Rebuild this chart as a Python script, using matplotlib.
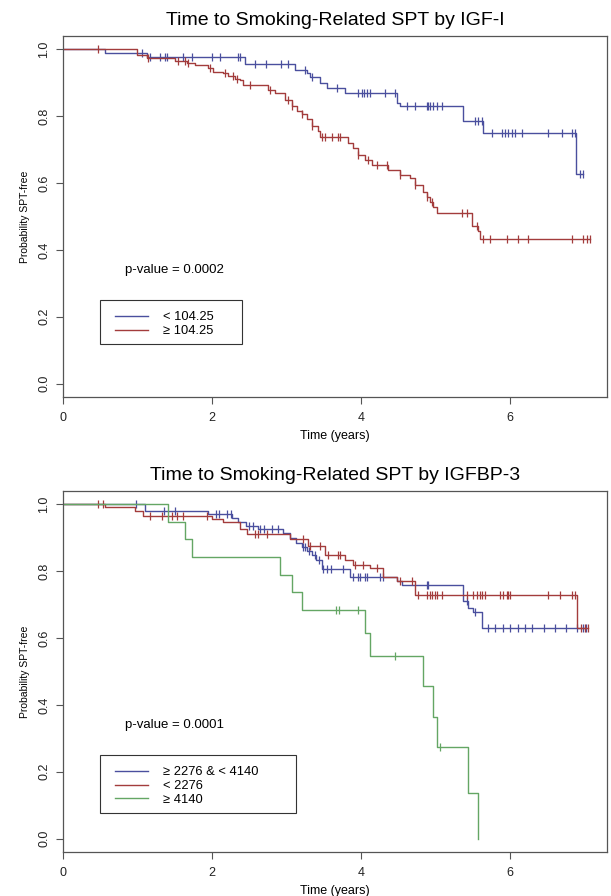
import numpy as np
import matplotlib.pyplot as plt
from matplotlib.patches import Rectangle

plt.rcParams['font.family'] = ['Liberation Sans', 'DejaVu Sans']

BLUE = '#4a4f9e'
RED = '#a33c3c'
GREEN = '#64a664'
AX_GRAY = '#555555'

# --- IGF-I panel ---
igf_low_times = [0.56, 1.13, 2.44, 3.11, 3.28, 3.32, 3.45, 3.54, 3.79, 4.48, 4.52, 5.37, 5.64, 6.89]
igf_low_surv = [0.990, 0.976, 0.955, 0.937, 0.928, 0.916, 0.900, 0.883, 0.868, 0.840, 0.830, 0.787, 0.750, 0.626]
igf_low_cens = [1.06, 1.17, 1.30, 1.37, 1.40, 1.61, 1.73, 2.00, 2.11, 2.35, 2.38, 2.58, 2.72, 2.92,
                3.02, 3.25, 3.34, 3.68, 3.96, 4.01, 4.04, 4.08, 4.12, 4.32, 4.46, 4.62, 4.72, 4.89,
                4.90, 4.93, 4.97, 5.02, 5.09, 5.53, 5.57, 5.62, 5.76, 5.89, 5.93, 5.97, 6.03, 6.07,
                6.16, 6.51, 6.70, 6.83, 6.87, 6.94, 6.98]

igf_high_times = [0.99, 1.13, 1.50, 1.66, 1.77, 1.95, 2.01, 2.15, 2.21, 2.31, 2.38, 2.42, 2.75, 2.85,
                  2.98, 3.07, 3.14, 3.21, 3.28, 3.34, 3.42, 3.45, 3.83, 3.89, 3.96, 4.05, 4.15, 4.36,
                  4.52, 4.66, 4.72, 4.83, 4.89, 4.93, 4.97, 5.02, 5.49, 5.57, 5.60]
igf_high_surv = [0.982, 0.973, 0.964, 0.958, 0.952, 0.943, 0.931, 0.928, 0.919, 0.912, 0.907, 0.892,
                 0.877, 0.868, 0.850, 0.832, 0.817, 0.808, 0.793, 0.772, 0.757, 0.737, 0.719, 0.704,
                 0.683, 0.668, 0.653, 0.638, 0.623, 0.614, 0.593, 0.572, 0.557, 0.542, 0.527, 0.509,
                 0.473, 0.458, 0.434]
igf_high_cens = [0.47, 1.14, 1.54, 1.64, 1.68, 1.97, 2.17, 2.28, 2.34, 2.51, 2.78, 3.02, 3.07, 3.21,
                 3.34, 3.48, 3.52, 3.61, 3.69, 3.72, 3.96, 4.09, 4.21, 4.35, 4.52, 4.72, 4.89, 4.95,
                 5.36, 5.42, 5.56, 5.64, 5.73, 5.96, 6.11, 6.24, 6.83, 6.98, 7.03, 7.07]

# --- IGFBP-3 panel ---
bp_mid_times = [1.10, 1.95, 2.27, 2.35, 2.45, 2.62, 2.95, 3.05, 3.13, 3.21, 3.28, 3.34, 3.40, 3.47,
                3.85, 4.48, 4.55, 5.37, 5.44, 5.50, 5.62]
bp_mid_surv = [0.979, 0.970, 0.958, 0.946, 0.935, 0.925, 0.915, 0.900, 0.885, 0.871, 0.860, 0.850,
               0.835, 0.808, 0.784, 0.772, 0.760, 0.710, 0.690, 0.677, 0.630]
bp_mid_cens = [0.98, 1.35, 1.50, 2.05, 2.10, 2.20, 2.25, 2.50, 2.55, 2.65, 2.70, 2.80, 2.88, 3.22,
               3.25, 3.30, 3.38, 3.44, 3.49, 3.54, 3.60, 3.76, 3.89, 3.96, 3.99, 4.05, 4.08, 4.25,
               4.29, 4.89, 4.90, 5.42, 5.53, 5.70, 5.80, 5.90, 6.00, 6.10, 6.20, 6.30, 6.45, 6.60,
               6.75, 6.90, 6.98, 7.02]

bp_low_times = [0.56, 0.97, 1.08, 2.00, 2.15, 2.38, 2.47, 3.05, 3.29, 3.52, 3.79, 3.89, 4.12, 4.30,
                4.48, 4.72, 6.90]
bp_low_surv = [0.991, 0.979, 0.964, 0.955, 0.946, 0.925, 0.910, 0.895, 0.874, 0.850, 0.835, 0.820,
               0.810, 0.784, 0.770, 0.730, 0.630]
bp_low_cens = [0.47, 0.54, 1.17, 1.33, 1.46, 1.53, 1.61, 1.93, 2.58, 2.62, 2.74, 3.22, 3.32, 3.45,
               3.56, 3.69, 3.72, 3.92, 4.03, 4.21, 4.52, 4.68, 4.77, 4.89, 4.93, 4.95, 4.99, 5.02,
               5.09, 5.42, 5.50, 5.56, 5.60, 5.62, 5.66, 5.87, 5.91, 5.96, 5.97, 6.00, 6.51, 6.67,
               6.83, 6.87, 6.95, 7.00, 7.04]

bp_high_times = [1.41, 1.64, 1.73, 2.91, 3.07, 3.21, 4.05, 4.12, 4.83, 4.97, 5.02, 5.44, 5.57]
bp_high_surv = [0.947, 0.895, 0.842, 0.789, 0.737, 0.684, 0.616, 0.547, 0.456, 0.365, 0.274, 0.137, 0.0]
bp_high_cens = [3.67, 3.71, 3.96, 4.46, 5.06]


def draw_km(ax, times, surv, cens, color, label):
    times = np.asarray(times)
    surv = np.asarray(surv)
    end = max(times.max(), max(cens))
    xs = np.concatenate([[0], times, [end]])
    ys = np.concatenate([[1.0], surv, [surv[-1]]])
    line, = ax.step(xs, ys, where='post', color=color, lw=1.0, label=label)
    # censor marks sit on the curve value at that time
    idx = np.searchsorted(times, cens, side='right')
    cy = np.where(idx > 0, surv[np.maximum(idx - 1, 0)], 1.0)
    ax.plot(cens, cy, ls='none', marker='|', ms=6, mew=0.9, color=color)
    return line


def style_axes(ax, title):
    ax.set_xlim(0, 7.3)
    ax.set_ylim(-0.04, 1.04)
    ax.set_xticks([0, 2, 4, 6])
    ax.set_yticks([0.0, 0.2, 0.4, 0.6, 0.8, 1.0])
    ax.set_yticklabels(['0.0', '0.2', '0.4', '0.6', '0.8', '1.0'], rotation=90, va='center')
    ax.tick_params(colors=AX_GRAY, labelcolor='#222222', labelsize=9, length=5, width=0.8)
    ax.tick_params(axis='x', pad=6)
    ax.tick_params(axis='y', pad=4)
    for sp in ax.spines.values():
        sp.set_color(AX_GRAY)
        sp.set_linewidth(0.9)
    ax.set_xlabel('Time (years)', fontsize=9, labelpad=4)
    ax.set_ylabel('Probability SPT-free', fontsize=7.5, labelpad=6)
    ax.set_title(title, fontsize=14, pad=8)


def add_legend(ax, handles, box_w, box_h):
    # R-style legend box: wider on the right than matplotlib would make it
    ax.add_patch(Rectangle((0.497, 0.249 - box_h), box_w, box_h, fill=False,
                           edgecolor='#333333', lw=0.8, zorder=3))
    ax.legend(handles=handles, loc='upper left', bbox_to_anchor=(0.70, 0.216),
              bbox_transform=ax.transData, fontsize=9.3, frameon=False,
              handlelength=2.55, handletextpad=1.15, borderpad=0,
              labelspacing=0.12, borderaxespad=0)


fig = plt.figure(figsize=(6.11, 8.96), dpi=100)
ax1 = fig.add_axes([63 / 611, 1 - 397 / 896, 544 / 611, 361 / 896])
ax2 = fig.add_axes([63 / 611, 1 - 852 / 896, 544 / 611, 361 / 896])

h1 = draw_km(ax1, igf_low_times, igf_low_surv, igf_low_cens, BLUE, '< 104.25')
h2 = draw_km(ax1, igf_high_times, igf_high_surv, igf_high_cens, RED, '\u2265 104.25')
style_axes(ax1, 'Time to Smoking-Related SPT by IGF-I')
ax1.text(1.5, 0.34, 'p-value = 0.0002', ha='center', va='center', fontsize=9.5)
add_legend(ax1, [h1, h2], 1.906, 0.129)

g1 = draw_km(ax2, bp_mid_times, bp_mid_surv, bp_mid_cens, BLUE, '\u2265 2276 & < 4140')
g2 = draw_km(ax2, bp_low_times, bp_low_surv, bp_low_cens, RED, '< 2276')
g3 = draw_km(ax2, bp_high_times, bp_high_surv, bp_high_cens, GREEN, '\u2265 4140')
style_axes(ax2, 'Time to Smoking-Related SPT by IGFBP-3')
ax2.text(1.5, 0.34, 'p-value = 0.0001', ha='center', va='center', fontsize=9.5)
add_legend(ax2, [g1, g2, g3], 2.63, 0.173)

fig.savefig('out.png', dpi=100)
